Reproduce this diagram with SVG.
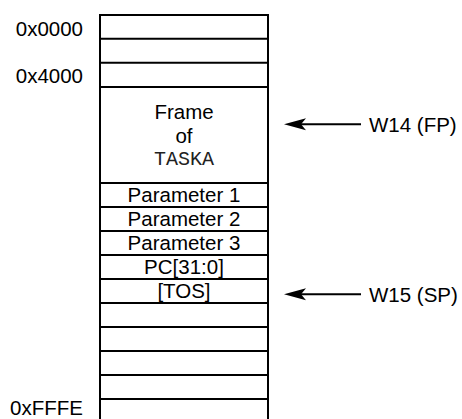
<svg xmlns="http://www.w3.org/2000/svg" width="462" height="419" viewBox="0 0 462 419">
<style>
.t{font-family:"Liberation Sans",Arial,sans-serif;font-size:20.5px;fill:#000}
.m{font-family:"Liberation Mono","Courier New",monospace;font-size:20px;fill:#222}
.c{text-anchor:middle}
.e{text-anchor:end}
.cell{fill:#fff;stroke:#000;stroke-width:2}
.ln{stroke:#000;stroke-width:2;fill:none}
</style>
<defs>
<marker id="ah" markerUnits="userSpaceOnUse" markerWidth="24" markerHeight="14" refX="6" refY="7" orient="auto" viewBox="0 0 24 14">
<path d="M22,7 L0,1 L5,7 L0,13 Z" fill="#000"/>
</marker>
</defs>
<g id="addresses">
<text class="t e" x="83" y="35.5">0x0000</text>
<text class="t e" x="83" y="83">0x4000</text>
<text class="t e" x="83" y="415">0xFFFE</text>
</g>
<g id="memory">
<rect class="cell" x="100" y="15" width="168" height="405"/>
<g id="rows">
<line class="ln" x1="100" y1="38.7" x2="268" y2="38.7"/>
<line class="ln" x1="100" y1="62.7" x2="268" y2="62.7"/>
<line class="ln" x1="100" y1="87" x2="268" y2="87"/>
<line class="ln" x1="100" y1="183" x2="268" y2="183"/>
<line class="ln" x1="100" y1="207" x2="268" y2="207"/>
<line class="ln" x1="100" y1="231" x2="268" y2="231"/>
<line class="ln" x1="100" y1="255" x2="268" y2="255"/>
<line class="ln" x1="100" y1="279" x2="268" y2="279"/>
<line class="ln" x1="100" y1="303" x2="268" y2="303"/>
<line class="ln" x1="100" y1="327" x2="268" y2="327"/>
<line class="ln" x1="100" y1="351" x2="268" y2="351"/>
<line class="ln" x1="100" y1="375" x2="268" y2="375"/>
<line class="ln" x1="100" y1="399" x2="268" y2="399"/>
</g>
</g>
<g id="frame">
<text class="t c" x="184" y="119.3">Frame</text>
<text class="t c" x="184" y="143.3">of</text>
<text class="m c" x="184" y="165">TASKA</text>
</g>
<g id="param1"><text class="t c" x="184" y="201.5">Parameter 1</text></g>
<g id="param2"><text class="t c" x="184" y="225.5">Parameter 2</text></g>
<g id="param3"><text class="t c" x="184" y="249.5">Parameter 3</text></g>
<g id="pc"><text class="t c" x="184" y="273.5">PC[31:0]</text></g>
<g id="tos"><text class="t c" x="184" y="297.5">[TOS]</text></g>
<g id="fp"><text class="t" x="369" y="132">W14 (FP)</text></g>
<g id="sp"><text class="t" x="369" y="302">W15 (SP)</text></g>
<g id="connectors">
<line class="ln" x1="361" y1="124.3" x2="300" y2="124.3" marker-end="url(#ah)"/>
<line class="ln" x1="361" y1="294.3" x2="300" y2="294.3" marker-end="url(#ah)"/>
</g>
</svg>
